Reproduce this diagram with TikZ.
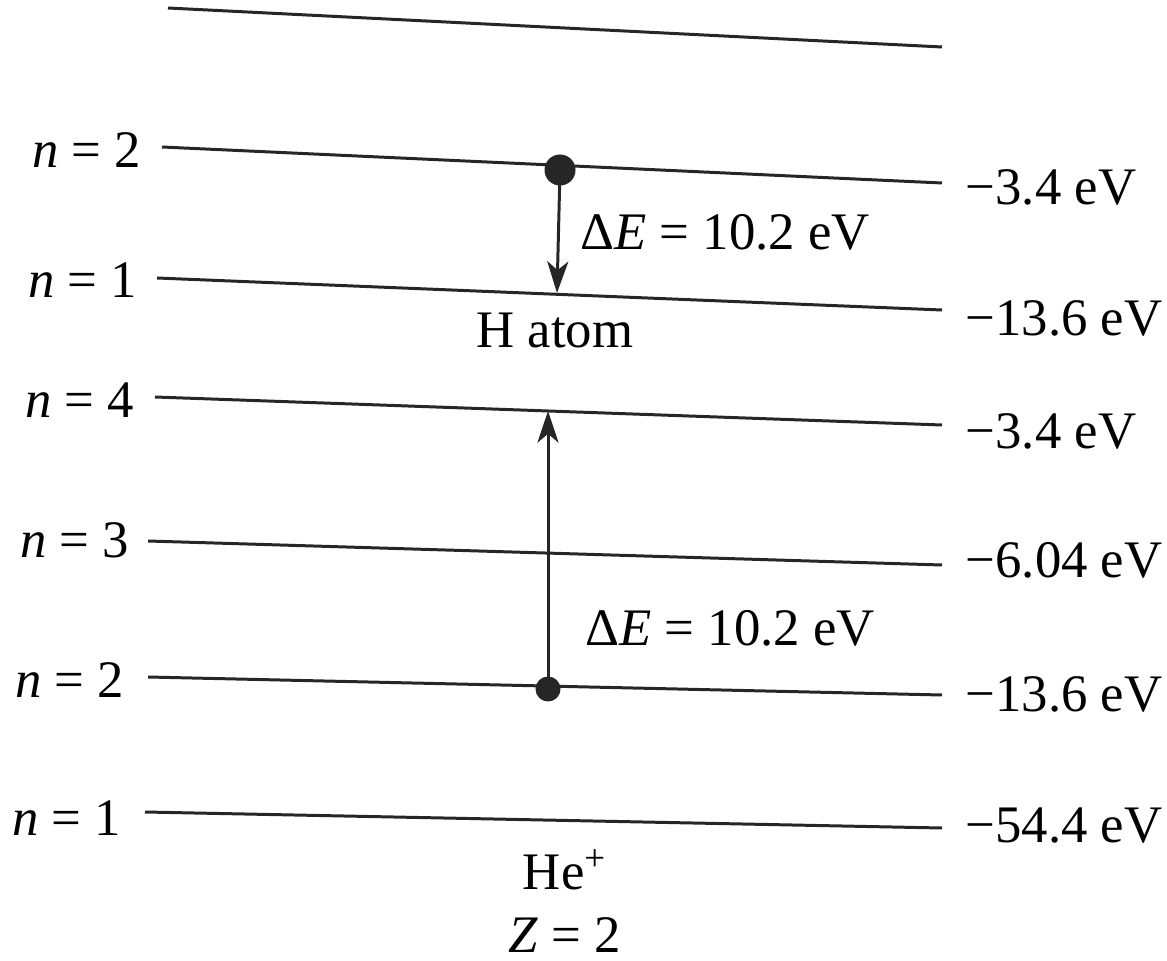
\documentclass[tikz,border=0pt]{standalone}
\usepackage{fontspec}
\setmainfont{Liberation Serif}
\usetikzlibrary{arrows.meta}
\begin{document}
\begin{tikzpicture}[x=0.01cm,y=-0.01cm,
  level/.style={line width=0.85pt,draw=black!85},
  lab/.style={font=\fontsize{15}{18}\selectfont,inner sep=0pt},
  dotnode/.style={circle,fill=black!85,inner sep=0pt},
  trans/.style={line width=0.85pt,draw=black!85,-{Stealth[length=9pt,width=6pt,inset=2.5pt]}}]
\useasboundingbox (0,0) rectangle (1167,961);
% level endpoints
\coordinate (t0) at (168,8);   \coordinate (t1) at (942,47);
\coordinate (ha0) at (162,147); \coordinate (ha1) at (942,183);
\coordinate (hb0) at (157,278); \coordinate (hb1) at (942,310);
\coordinate (e40) at (155,397); \coordinate (e41) at (942,425);
\coordinate (e30) at (148,541); \coordinate (e31) at (942,565);
\coordinate (e20) at (148,677); \coordinate (e21) at (942,695);
\coordinate (e10) at (145,812); \coordinate (e11) at (942,828);
\draw[level] (t0) -- (t1);
\draw[level] (ha0) -- (ha1);
\draw[level] (hb0) -- (hb1);
\draw[level] (e40) -- (e41);
\draw[level] (e30) -- (e31);
\draw[level] (e20) -- (e21);
\draw[level] (e10) -- (e11);
% left labels
\node[lab,anchor=east] (lha) at (142,150) {\textit{n} = 2};
\node[lab,anchor=east] (lhb) at (138,280) {\textit{n} = 1};
\node[lab,anchor=east] (l4) at (135,400) {\textit{n} = 4};
\node[lab,anchor=east] (l3) at (130,540) {\textit{n} = 3};
\node[lab,anchor=east] (l2) at (125,680) {\textit{n} = 2};
\node[lab,anchor=east] (l1) at (122,818) {\textit{n} = 1};
% right labels
\node[lab,anchor=west] (rha) at (965,187) {−3.4 eV};
\node[lab,anchor=west] (rhb) at (965,318) {−13.6 eV};
\node[lab,anchor=west] (r4) at (965,431) {−3.4 eV};
\node[lab,anchor=west] (r3) at (965,560) {−6.04 eV};
\node[lab,anchor=west] (r2) at (965,694) {−13.6 eV};
\node[lab,anchor=west] (r1) at (965,826) {−54.4 eV};
% H transition
\node[dotnode,minimum size=0.31cm] (hdot) at (560,170) {};
\coordinate (hend) at (557,293);
\draw[trans] (hdot.center) -- (hend);
\node[lab] (hde) at (725,232) {Δ\textit{E} = 10.2 eV};
\node[lab] (hatom) at (555,330) {H atom};
% He transition
\node[dotnode,minimum size=0.25cm] (hedot) at (548,689) {};
\coordinate (heend) at (548,411);
\draw[trans] (hedot.center) -- (heend);
\node[lab] (hede) at (730,628) {Δ\textit{E} = 10.2 eV};
\node[lab] (he) at (565,870) {He\textsuperscript{+}};
\node[lab] (z) at (565,935) {\textit{Z} = 2};
\end{tikzpicture}
\end{document}
